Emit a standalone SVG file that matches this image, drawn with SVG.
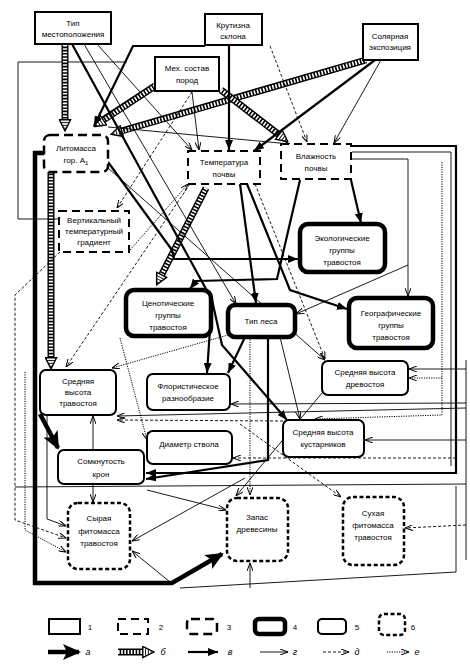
<svg xmlns="http://www.w3.org/2000/svg" width="470" height="668" viewBox="0 0 470 668">
<style>
text{font-family:"Liberation Sans","DejaVu Sans",sans-serif;font-size:8px;text-anchor:middle;fill:#000}
.lbl{font-size:9px;font-style:italic}
.nb{fill:#fff;stroke:#000}
.t1{stroke-width:2}
.t2{stroke-width:2;stroke-dasharray:8 5}
.t3{stroke-width:2.5;stroke-dasharray:9 5}
.t4{stroke-width:4.5}
.t5{stroke-width:2}
.t6{stroke-width:2.5;stroke-dasharray:4 2.5}
.c{fill:none;stroke:#000}
.ca{stroke-width:4.5;marker-end:url(#mA)}
.cb1{stroke-width:7}
.cb2{stroke:#fff;stroke-width:4.2;stroke-dasharray:1.6 1.6;marker-end:url(#mB)}
.cv{stroke-width:2.2;marker-end:url(#mV)}
.cg{stroke-width:0.9;marker-end:url(#mG)}
.cd{stroke-width:0.9;stroke-dasharray:3 2;marker-end:url(#mG)}
.ce{stroke-width:1;stroke-dasharray:1.2 1.2;marker-end:url(#mG)}
.cn{marker-end:none}
</style>
<defs>
<marker id="mA" viewBox="0 0 18 16" refX="16" refY="8" markerWidth="18" markerHeight="16" markerUnits="userSpaceOnUse" orient="auto"><path d="M0,0 L18,8 L0,16 L4,8 z" fill="#000"/></marker>
<marker id="mB" viewBox="0 0 14 14" refX="12" refY="7" markerWidth="13" markerHeight="13" markerUnits="userSpaceOnUse" orient="auto"><path d="M1,1 L13,7 L1,13 z" fill="#fff" stroke="#000" stroke-width="1.5"/><path d="M4,3 L4,11 M7,4.5 L7,9.5 M10,6 L10,8" stroke="#000" stroke-width="1"/></marker>
<marker id="mV" viewBox="0 0 10 8" refX="10" refY="4" markerWidth="10" markerHeight="8" markerUnits="userSpaceOnUse" orient="auto"><path d="M0,0 L10,4 L0,8 z" fill="#000"/></marker>
<marker id="mG" viewBox="0 0 8 6" refX="8" refY="3" markerWidth="8" markerHeight="6" markerUnits="userSpaceOnUse" orient="auto"><path d="M0,0 L8,3 L0,6" fill="none" stroke="#000" stroke-width="1"/></marker>
</defs>
<rect width="470" height="668" fill="#fff"/>
<g id="connectors">
<path class="c cg cn" d="M127,62 L18,62 L18,219 L59,219"/>
<path class="c cg cn" d="M15,487 L466,484"/>
<path class="c cg cn" d="M180,588 L456,572 L456,486"/>
<path class="c cv" d="M352,146 L456,146 L456,473 L146,473"/>
<path class="c cg cn" d="M352,152 L451,152 L451,466"/>
<path class="c cg cn" d="M466,360 L466,560"/>
<path class="c cb1" d="M65,45 L65,124"/><path class="c cb2" d="M65,45 L65,130"/>
<path class="c cb1" d="M155,86 L100,122"/><path class="c cb2" d="M155,86 L95,126"/>
<path class="c cb1" d="M366,60 L118,132"/><path class="c cb2" d="M366,60 L112,134"/>
<path class="c cb1" d="M51,172 L51,362"/><path class="c cb2" d="M51,172 L51,368"/>
<path class="c cb1" d="M206,188 L160,278"/><path class="c cb2" d="M206,188 L157,284"/>
<path class="c cb1" d="M221,90 L282,137"/><path class="c cb2" d="M221,90 L287,141"/>
<path class="c cv" d="M205,46 L133,46 L94,126"/>
<path class="c cv" d="M229,45 L229,150"/>
<path class="c cv" d="M375,60 L254,151"/>
<path class="c cv" d="M72,44 L212,300 L222,345 L287,420"/>
<path class="c cv" d="M212,300 L207,373"/>
<path class="c cv" d="M245,337 L228,373"/>
<path class="c cv" d="M108,162 L172,250 L174,259 L298,259"/>
<path class="c cv" d="M300,180 L277,279 L196,281 L190,289"/>
<path class="c cv" d="M351,180 L361,223"/>
<path class="c cv" d="M240,184 L256,303"/>
<path class="c cv" d="M247,184 L290,290 L347,309"/>
<path class="c cv" d="M268,337 L268,460 L146,479"/>
<path class="c ca" d="M44,153 L35,153 L35,583 L172,583 L222,554"/>
<path class="c ca" d="M40,414 L58,448"/>
<path class="c cg" d="M84,44 L236,304"/>
<path class="c cg" d="M97,44 L192,150"/>
<path class="c cg" d="M108,127 L290,144"/>
<path class="c cg" d="M381,60 L334,143"/>
<path class="c cg" d="M192,92 L199,150"/>
<path class="c cg" d="M108,168 L325,360"/>
<path class="c cg" d="M352,159 L408,159 L408,296"/>
<path class="c cg" d="M408,265 L296,314"/>
<path class="c cg" d="M466,369 L409,369"/>
<path class="c cg" d="M466,440 L365,440"/>
<path class="c cg" d="M466,403 L231,404"/>
<path class="c cg" d="M466,408 L117,416"/>
<path class="c cg" d="M93,449 L93,416"/>
<path class="c cg" d="M93,484 L93,502"/>
<path class="c cg" d="M245,478 L132,541"/>
<path class="c cg" d="M170,582 L132,551"/>
<path class="c cg" d="M147,490 L226,510"/>
<path class="c cg" d="M250,588 L250,563"/>
<path class="c cg" d="M47,416 L47,519 L66,526"/>
<path class="c cg" d="M322,393 L236,496"/>
<path class="c cg" d="M280,337 L300,419"/>
<path class="c cd" d="M270,46 L307,142"/>
<path class="c cd" d="M192,92 L117,208"/>
<path class="c cd" d="M190,184 L66,367"/>
<path class="c cd" d="M60,252 L15,295 L15,520 L66,538"/>
<path class="c cd" d="M255,184 L325,359"/>
<path class="c cd" d="M466,525 L405,528"/>
<path class="c cd" d="M240,424 L341,497"/>
<path class="c cd" d="M456,458 L233,458"/>
<path class="c cd" d="M283,421 L117,420"/>
<path class="c ce" d="M130,250 L188,184"/>
<path class="c ce" d="M228,335 L112,368"/>
<path class="c ce" d="M442,162 L442,415 L315,419"/>
<path class="c ce" d="M442,378 L409,378"/>
<path class="c ce" d="M25,372 L25,530 L66,552"/>
<path class="c ce" d="M120,338 L147,440"/>
<path class="c ce" d="M250,337 L250,495"/>
</g>
<g id="n_tip"><rect class="nb t1" x="35" y="12" width="76" height="32"/><text x="73" y="26">Тип</text><text x="73" y="37">местоположения</text></g>
<g id="n_krut"><rect class="nb t1" x="205" y="14" width="57" height="31"/><text x="233" y="28">Крутизна</text><text x="233" y="39">склона</text></g>
<g id="n_sol"><rect class="nb t1" x="363" y="24" width="55" height="36"/><text x="390" y="39">Солярная</text><text x="390" y="50">экспозиция</text></g>
<g id="n_mech"><rect class="nb t1" x="155" y="57" width="64" height="34"/><text x="187" y="71">Мех. состав</text><text x="187" y="83">пород</text></g>
<g id="n_lito"><rect class="nb t3" x="44" y="135" width="64" height="37" rx="6"/><text x="76" y="151">Литомасса</text><text x="76" y="163">гор. А<tspan font-size="6" dy="2">1</tspan></text></g>
<g id="n_temp"><rect class="nb t2" x="188" y="151" width="72" height="33"/><text x="224" y="165">Температура</text><text x="224" y="177">почвы</text></g>
<g id="n_vlazh"><rect class="nb t2" x="281" y="144" width="70" height="35"/><text x="316" y="159">Влажность</text><text x="316" y="171">почвы</text></g>
<g id="n_vert"><rect class="nb t2" x="59" y="211" width="70" height="41"/><text x="94" y="223">Вертикальный</text><text x="94" y="234">температурный</text><text x="94" y="245">градиент</text></g>
<g id="n_eko"><rect class="nb t4" x="300" y="224" width="85" height="48" rx="8"/><text x="342" y="241">Экологические</text><text x="342" y="253">группы</text><text x="342" y="265">травостоя</text></g>
<g id="n_ceno"><rect class="nb t4" x="126" y="290" width="85" height="46" rx="8"/><text x="168" y="306">Ценотические</text><text x="168" y="318">группы</text><text x="168" y="330">травостоя</text></g>
<g id="n_tipl"><rect class="nb t4" x="228" y="305" width="67" height="32" rx="7"/><text x="261" y="324">Тип леса</text></g>
<g id="n_geo"><rect class="nb t4" x="349" y="298" width="84" height="50" rx="8"/><text x="391" y="316">Географические</text><text x="391" y="328">группы</text><text x="391" y="340">травостоя</text></g>
<g id="n_drev"><rect class="nb t5" x="322" y="361" width="86" height="34" rx="6"/><text x="365" y="375">Средняя высота</text><text x="365" y="387">древостоя</text></g>
<g id="n_trav"><rect class="nb t5" x="40" y="370" width="76" height="45" rx="6"/><text x="78" y="384">Средняя</text><text x="78" y="395">высота</text><text x="78" y="406">травостоя</text></g>
<g id="n_flor"><rect class="nb t5" x="147" y="374" width="83" height="36" rx="6"/><text x="188" y="389">Флористическое</text><text x="188" y="401">разнообразие</text></g>
<g id="n_diam"><rect class="nb t5" x="147" y="431" width="85" height="33" rx="6"/><text x="189" y="447">Диаметр ствола</text></g>
<g id="n_kust"><rect class="nb t5" x="283" y="420" width="81" height="37" rx="6"/><text x="323" y="435">Средняя высота</text><text x="323" y="447">кустарников</text></g>
<g id="n_somk"><rect class="nb t5" x="58" y="450" width="86" height="34" rx="6"/><text x="101" y="464">Сомкнутость</text><text x="101" y="477">крон</text></g>
<g id="n_syr"><rect class="nb t6" x="68" y="503" width="62" height="66" rx="10"/><text x="99" y="521">Сырая</text><text x="99" y="534">фитомасса</text><text x="99" y="546">травостоя</text></g>
<g id="n_zapas"><rect class="nb t6" x="227" y="498" width="61" height="63" rx="10"/><text x="257" y="520">Запас</text><text x="257" y="532">древесины</text></g>
<g id="n_sukh"><rect class="nb t6" x="343" y="497" width="61" height="68" rx="10"/><text x="373" y="516">Сухая</text><text x="373" y="528">фитомасса</text><text x="373" y="540">травостоя</text></g>
<g id="legend">
<rect class="nb t1" x="49" y="619" width="31" height="15"/><text x="90" y="630">1</text>
<rect class="nb t2" x="118" y="619" width="30" height="15"/><text x="161" y="630">2</text>
<rect class="nb t3" x="187" y="619" width="30" height="15" rx="4"/><text x="229" y="630">3</text>
<rect class="nb t4" x="255" y="619" width="30" height="15" rx="4"/><text x="295" y="630">4</text>
<rect class="nb t5" x="318" y="619" width="28" height="15" rx="4"/><text x="357" y="630">5</text>
<rect class="nb t6" x="379" y="614" width="26" height="21" rx="5"/><text x="413" y="630">6</text>
<path class="c ca" d="M48,652 L79,652"/><text class="lbl" x="88" y="655">а</text>
<path class="c cb1" d="M118,652 L144,652"/><path class="c cb2" d="M118,652 L153,652"/><text class="lbl" x="163" y="655">б</text>
<path class="c cv" d="M188,652 L218,652"/><text class="lbl" x="230" y="655">в</text>
<path class="c cg" d="M260,652 L288,652"/><text class="lbl" x="295" y="655">г</text>
<path class="c cd" d="M323,652 L349,652"/><text class="lbl" x="357" y="655">д</text>
<path class="c ce" d="M387,652 L409,652"/><text class="lbl" x="417" y="655">е</text>
</g>
</svg>
